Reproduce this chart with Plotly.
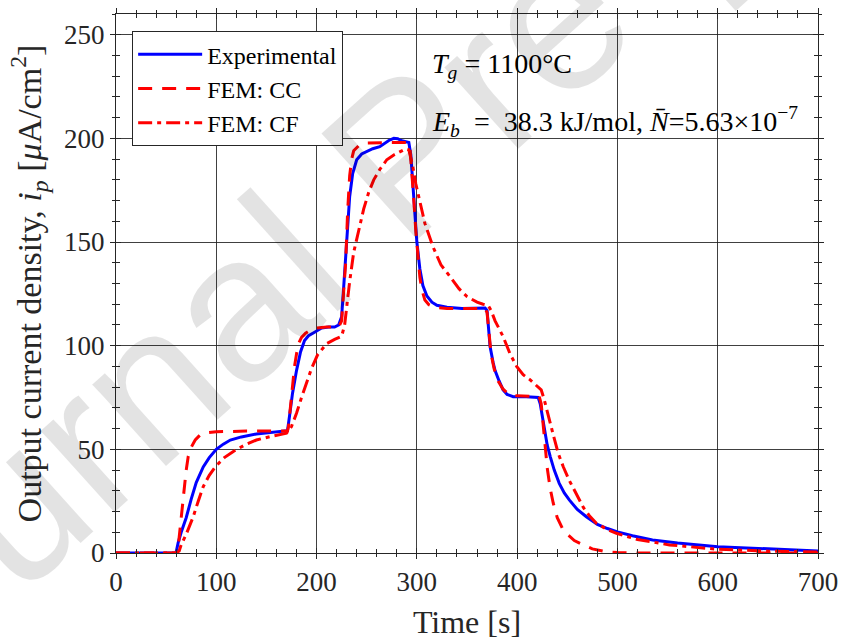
import plotly.graph_objects as go

# ---------------- data ----------------
t_exp = [0, 20, 40, 58, 60, 62, 65, 70, 75, 80, 87, 93, 100, 107, 114, 125, 140, 155, 168, 171,
         173, 176, 180, 184, 188, 192, 198, 205, 212, 218, 222, 225, 227, 230, 233, 236, 240, 245,
         250, 256, 263, 268, 272, 277, 281, 284, 288, 292, 294, 296, 298, 300, 303, 306, 310, 315,
         320, 330, 345, 360, 368, 370, 371, 373, 376, 378, 382, 386, 390, 396, 405, 415, 421, 423,
         425, 427, 430, 433, 437, 442, 447, 452, 460, 469, 480, 490, 500, 515, 535, 560, 600, 650, 700]
i_exp = [0, 0, 0, 0, 0.5, 5, 10, 17, 26, 34, 41.5, 46, 50, 52.5, 54.5, 56, 57.4, 58.2, 58.6, 59,
         66, 77, 88, 97, 102.5, 104.8, 106.5, 108.5, 109, 109, 110, 114, 128, 148, 172, 183, 189.7, 192.5,
         193.7, 195, 196, 197.5, 199, 200, 199.8, 199, 198.5, 198, 192, 178, 161, 150, 137, 129, 124, 121,
         119.5, 118.5, 118, 118, 118.2, 117, 110, 99.6, 92, 88, 83, 78.7, 76.5, 75.4, 75.5, 75.3, 75, 72,
         66, 59.4, 52, 46.5, 40, 33.6, 29, 25.6, 21, 17.5, 13.8, 11.8, 10.2, 8.3, 6.3, 4.8, 3, 2, 1]

t_cc = [0, 58, 60, 62, 64, 66, 68, 70, 72, 75, 79, 84, 90, 100, 130, 171, 172, 174, 176, 178, 180,
        182, 185, 189, 194, 200, 210, 222, 225, 227, 229, 231, 233, 235, 237, 242, 250, 270, 291, 293,
        295, 297, 299, 301, 303, 305, 308, 312, 318, 330, 368, 370, 372, 374, 377, 381, 386, 392, 400,
        422, 424, 426, 428, 430, 433, 436, 440, 445, 450, 457, 466, 475, 489, 500, 520, 700]
i_cc = [0, 0, 0, 3, 12, 22, 32, 40, 46.5, 51, 54.5, 57, 58, 58.5, 58.8, 58.8, 61, 72, 82, 90, 96,
        101, 104, 106, 107.5, 108.5, 109, 109, 112, 125, 140, 165, 182, 190, 194, 196.5, 197.8, 198, 198, 196,
        185, 170, 155, 142, 133, 127, 122, 119.8, 118.5, 118, 118, 116, 104, 96, 89, 83, 79, 76.5, 75.8,
        75.5, 72, 62, 50, 41, 31, 24, 17, 12, 9, 6, 3.9, 2, 0.6, 0.2, 0, 0]

t_cf = [0, 60, 63, 65, 70, 77, 82, 87, 93, 99, 108, 117, 128, 140, 155, 170, 175, 180, 185, 190, 195,
        201, 210, 218, 225, 228, 230, 233, 237, 242, 247, 252, 257, 263, 270, 277, 283, 289, 292, 294,
        296, 299, 303, 308, 316, 324, 333, 342, 350, 360, 366, 371, 374, 378, 386, 393, 399.5, 406, 413,
        419, 424, 427, 430, 433, 436, 441, 446, 452, 459, 466, 472, 479, 490, 499, 520, 552, 600, 650, 700]
i_cf = [0, 0, 1, 4, 9, 17.5, 25, 32, 37.5, 41.6, 46, 49, 52, 54.5, 56.3, 57.8, 61, 67.4, 75, 82, 89,
        95.6, 101, 103, 104.5, 110, 119, 131, 145, 156, 166, 174, 180, 185, 189.7, 192, 193.7, 195, 194.5, 191,
        186.4, 178, 168.8, 159, 147.8, 139, 133.4, 127.5, 123.7, 121, 120, 119.5, 117, 112, 104.4, 96, 90, 86, 83.5,
        81, 78.7, 74, 68, 62.6, 57, 48, 41.6, 35, 28.8, 22, 18, 14.3, 11.3, 9.5, 6.5, 3.9, 1.8, 0.9, 0.5]

x_ticks = [0, 100, 200, 300, 400, 500, 600, 700]
y_ticks = [0, 50, 100, 150, 200, 250]

FONT = "Liberation Serif"
AX = "#262626"

fig = go.Figure()
fig.add_trace(go.Scatter(x=t_exp, y=i_exp, mode="lines", name="Experimental",
                         line=dict(color="#0000ff", width=3)))
fig.add_trace(go.Scatter(x=t_cc, y=i_cc, mode="lines", name="FEM: CC",
                         line=dict(color="#ff0000", width=3, dash="14px,10px")))
fig.add_trace(go.Scatter(x=t_cf, y=i_cf, mode="lines", name="FEM: CF",
                         line=dict(color="#ff0000", width=3, dash="14px,5px,4px,5px")))
# helper trace for the inward-tick overlay axes
fig.add_trace(go.Scatter(x=[None], y=[None], xaxis="x2", yaxis="y2", showlegend=False,
                         hoverinfo="skip", mode="lines"))

common_x = dict(range=[0, 700], tickvals=x_ticks, showline=True, linecolor=AX, linewidth=1,
                zeroline=False, automargin=False)
common_y = dict(range=[0, 260], tickvals=y_ticks, showline=True, linecolor=AX, linewidth=1,
                zeroline=False, automargin=False)

fig.update_layout(
    width=842, height=644,
    margin=dict(l=116, r=24, t=14, b=91, autoexpand=False),
    plot_bgcolor="white", paper_bgcolor="white",
    font=dict(family=FONT, size=27, color=AX),
    xaxis=dict(**common_x, ticks="outside", ticklen=5, tickwidth=1, tickcolor=AX,
               mirror="allticks", showgrid=True, gridcolor="rgba(30,30,30,0.85)", gridwidth=1,
               minor=dict(dtick=20, ticks="outside", ticklen=3, tickcolor=AX, showgrid=False),
               tickfont=dict(size=27), title=dict(text="Time [s]", font=dict(size=32), standoff=14)),
    yaxis=dict(**common_y, ticks="outside", ticklen=5, tickwidth=1, tickcolor=AX,
               mirror="allticks", showgrid=True, gridcolor="rgba(30,30,30,0.85)", gridwidth=1,
               minor=dict(dtick=10, ticks="outside", ticklen=3, tickcolor=AX, showgrid=False),
               tickfont=dict(size=27),
               title=dict(text="Output current density, <i>i<sub>p</sub></i> [<i>μ</i>A/cm<sup>2</sup>]",
                          font=dict(size=34), standoff=12)),
    xaxis2=dict(**common_x, overlaying="x", anchor="y2", ticks="inside", ticklen=5, tickcolor=AX,
                mirror="allticks", showgrid=False, showticklabels=False,
                minor=dict(dtick=20, ticks="inside", ticklen=4, tickcolor=AX)),
    yaxis2=dict(**common_y, overlaying="y", anchor="x2", ticks="inside", ticklen=5, tickcolor=AX,
                mirror="allticks", showgrid=False, showticklabels=False,
                minor=dict(dtick=10, ticks="inside", ticklen=4, tickcolor=AX)),
    legend=dict(x=0.023, y=0.968, xanchor="left", yanchor="top", bgcolor="white",
                bordercolor=AX, borderwidth=1, font=dict(size=24, color="black"),
                tracegroupgap=0, itemwidth=64),
    showlegend=True,
)

fig.add_annotation(x=0.447, y=0.905, xref="paper", yref="paper", xanchor="left", yanchor="middle",
                   text="<i>T<sub>g</sub></i> = 1100°C", showarrow=False,
                   font=dict(size=28, color="black"))
fig.add_annotation(x=0.447, y=0.80, xref="paper", yref="paper", xanchor="left", yanchor="middle",
                   text="<i>E<sub>b</sub></i>  =  38.3 kJ/mol, <i>N̄</i>=5.63×10<sup>−7</sup>",
                   showarrow=False, font=dict(size=28, color="black"))

# watermark
fig.add_annotation(x=0.41, y=0.738, xref="paper", yref="paper", xanchor="center", yanchor="middle",
                   text="Journal Pre-proof", showarrow=False, textangle=-42,
                   font=dict(family="Liberation Sans", size=208, color="rgba(0,0,0,0.11)"))

fig.write_html("out.html")
